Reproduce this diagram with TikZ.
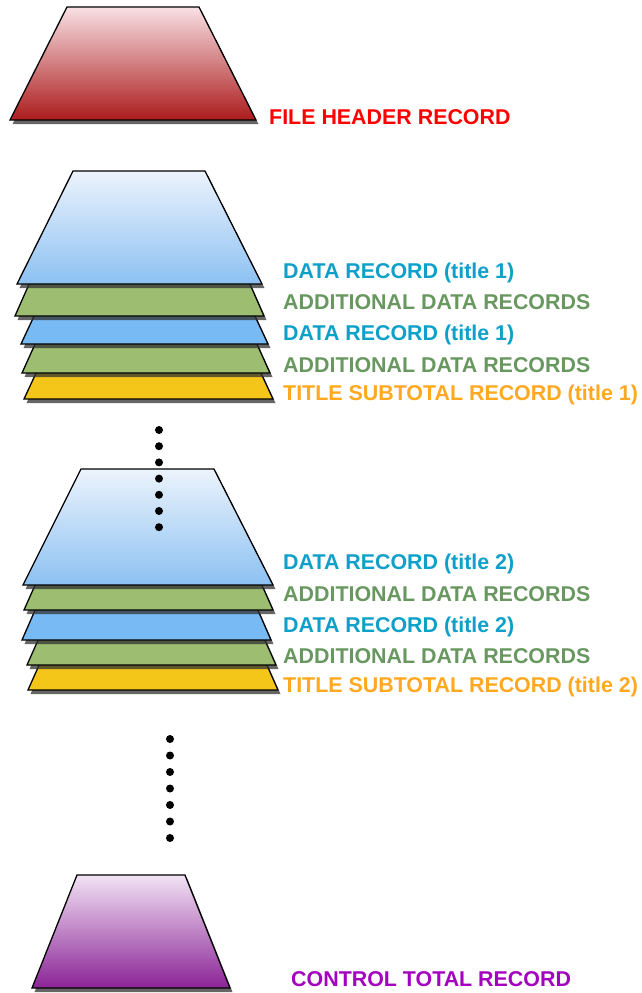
\documentclass[tikz,border=0pt]{standalone}
\usepackage{fontspec}
\setmainfont{Liberation Sans}
\usetikzlibrary{shadows}

\definecolor{hdrtop}{RGB}{248,224,228}
\definecolor{hdrbot}{RGB}{172,28,28}
\definecolor{bluetop}{RGB}{236,243,252}
\definecolor{bluebot}{RGB}{140,193,242}
\definecolor{blueslab}{RGB}{120,186,244}
\definecolor{greenslab}{RGB}{157,190,112}
\definecolor{yellowslab}{RGB}{245,198,26}
\definecolor{ctltop}{RGB}{242,226,244}
\definecolor{ctlbot}{RGB}{138,36,150}
\definecolor{txtred}{RGB}{255,0,0}
\definecolor{txtblue}{RGB}{14,160,200}
\definecolor{txtgreen}{RGB}{104,152,96}
\definecolor{txtorange}{RGB}{255,168,32}
\definecolor{txtpurple}{RGB}{164,0,192}

\begin{document}
\begin{tikzpicture}[x=1pt,y=-1pt,
  record/.style={draw=black, line width=1.3pt, line join=miter,
    drop shadow={shadow xshift=2.5pt, shadow yshift=-4pt, fill=black!80, opacity=.75}},
  tag/.style={anchor=base west, inner sep=0pt, font=\bfseries\fontsize{21.4}{25}\selectfont},
  dot/.style={fill=black}]
\useasboundingbox (0,0) rectangle (642,993);

% file header
\path[record, top color=hdrtop, bottom color=hdrbot]
  (67,7) -- (199,7) -- (256,120) -- (10,120) -- cycle;
\node[tag, text=txtred] (hdr) at (269,124) {FILE HEADER RECORD};

% first title block (drawn from the bottom slab upward)
\path[record, fill=yellowslab] (37,371) -- (260,371) -- (273,399) -- (24,399) -- cycle;
\path[record, fill=greenslab]  (36,342) -- (256,342) -- (270,373) -- (22,373) -- cycle;
\path[record, fill=blueslab]   (35,314) -- (254,314) -- (268,344) -- (21,344) -- cycle;
\path[record, fill=greenslab]  (30,282) -- (249,282) -- (264,316) -- (15,316) -- cycle;
\path[record, top color=bluetop, bottom color=bluebot]
  (73,171) -- (205,171) -- (262,284) -- (17,284) -- cycle;

\node[tag, text=txtblue]   (d1a) at (283,278) {DATA RECORD (title 1)};
\node[tag, text=txtgreen]  (a1a) at (283,309) {ADDITIONAL DATA RECORDS};
\node[tag, text=txtblue]   (d1b) at (283,340) {DATA RECORD (title 1)};
\node[tag, text=txtgreen]  (a1b) at (283,372) {ADDITIONAL DATA RECORDS};
\node[tag, text=txtorange] (s1)  at (283,400) {TITLE SUBTOTAL RECORD (title 1)};

% second title block
\path[record, fill=yellowslab] (40,663) -- (266,663) -- (278,690) -- (28,690) -- cycle;
\path[record, fill=greenslab]  (39,638) -- (264,638) -- (276,665) -- (27,665) -- cycle;
\path[record, fill=blueslab]   (36,608) -- (257,608) -- (271,640) -- (22,640) -- cycle;
\path[record, fill=greenslab]  (36,583) -- (261,583) -- (273,610) -- (24,610) -- cycle;
\path[record, top color=bluetop, bottom color=bluebot]
  (81,469) -- (214,469) -- (273,585) -- (23,585) -- cycle;

\node[tag, text=txtblue]   (d2a) at (283,569) {DATA RECORD (title 2)};
\node[tag, text=txtgreen]  (a2a) at (283,601) {ADDITIONAL DATA RECORDS};
\node[tag, text=txtblue]   (d2b) at (283,632) {DATA RECORD (title 2)};
\node[tag, text=txtgreen]  (a2b) at (283,663) {ADDITIONAL DATA RECORDS};
\node[tag, text=txtorange] (s2)  at (283,692) {TITLE SUBTOTAL RECORD (title 2)};

% ellipsis dots between blocks
\foreach \k in {0,...,6}
  \fill[dot] ({159},{430+16.2*\k}) circle[radius=4pt];
\foreach \k in {0,...,6}
  \fill[dot] ({170},{739+16.5*\k}) circle[radius=4pt];

% control total
\path[record, top color=ctltop, bottom color=ctlbot]
  (77,875) -- (185,875) -- (230,988) -- (32,988) -- cycle;
\node[tag, text=txtpurple] (ctl) at (291,986) {CONTROL TOTAL RECORD};
\end{tikzpicture}
\end{document}
